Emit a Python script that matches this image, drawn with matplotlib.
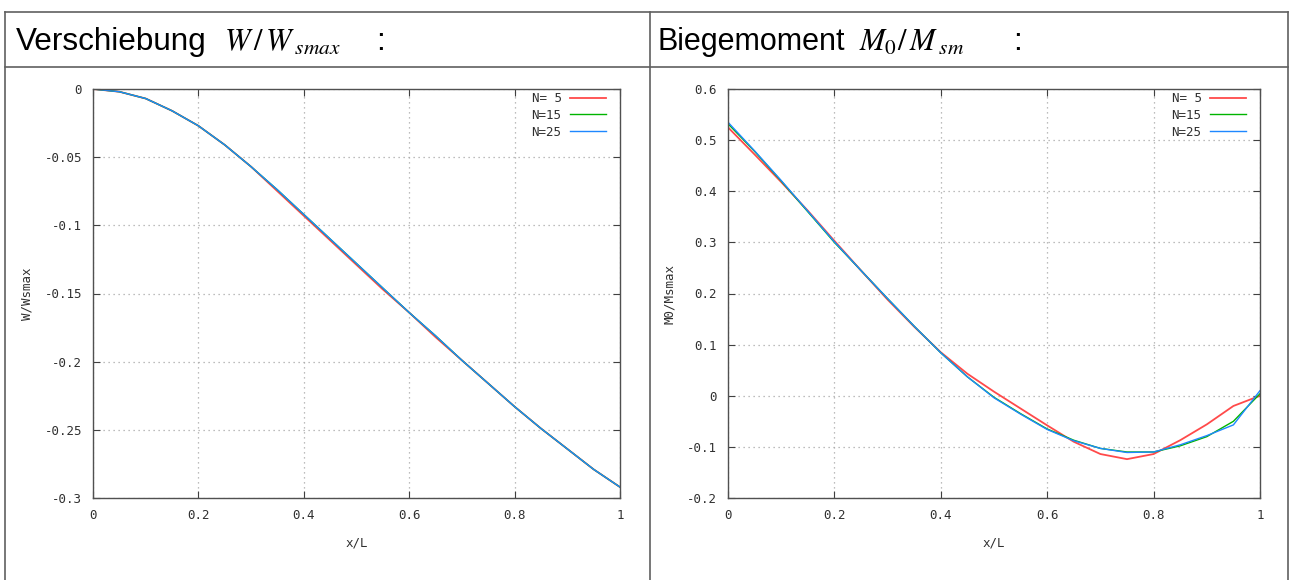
import matplotlib
matplotlib.use("Agg")
import matplotlib.pyplot as plt
from matplotlib.lines import Line2D

# ---------------- data ----------------
x_vals = [0.0, 0.05, 0.1, 0.15, 0.2, 0.25, 0.3, 0.35, 0.4, 0.45, 0.5,
          0.55, 0.6, 0.65, 0.7, 0.75, 0.8, 0.85, 0.9, 0.95, 1.0]

w_n5 = [0.0, -0.002, -0.007, -0.016, -0.027, -0.041, -0.057, -0.075, -0.093, -0.111, -0.129,
        -0.147, -0.164, -0.182, -0.199, -0.216, -0.233, -0.249, -0.264, -0.279, -0.292]
w_n15 = [0.0, -0.002, -0.007, -0.016, -0.027, -0.041, -0.057, -0.074, -0.092, -0.110, -0.128,
         -0.146, -0.164, -0.181, -0.199, -0.216, -0.233, -0.249, -0.264, -0.279, -0.292]
w_n25 = [0.0, -0.002, -0.007, -0.016, -0.027, -0.041, -0.057, -0.074, -0.092, -0.110, -0.128,
         -0.146, -0.164, -0.181, -0.199, -0.216, -0.233, -0.249, -0.264, -0.279, -0.292]

m_n5 = [0.525, 0.472, 0.418, 0.362, 0.303, 0.245, 0.188, 0.135, 0.085, 0.043, 0.008,
        -0.025, -0.058, -0.090, -0.114, -0.124, -0.114, -0.087, -0.056, -0.020, 0.0]
m_n15 = [0.532, 0.478, 0.420, 0.360, 0.300, 0.245, 0.190, 0.136, 0.084, 0.037, -0.003,
         -0.035, -0.065, -0.087, -0.103, -0.110, -0.110, -0.098, -0.080, -0.050, 0.004]
m_n25 = [0.535, 0.479, 0.421, 0.361, 0.301, 0.245, 0.190, 0.136, 0.084, 0.037, -0.004,
         -0.036, -0.066, -0.088, -0.103, -0.111, -0.110, -0.096, -0.078, -0.057, 0.010]

series_labels = ["N= 5", "N=15", "N=25"]
series_colors = ["#ff4a4a", "#00b400", "#1e88ff"]

x_ticks = [0, 0.2, 0.4, 0.6, 0.8, 1]
x_ticklabels = ["0", "0.2", "0.4", "0.6", "0.8", "1"]
w_ticks = [0, -0.05, -0.1, -0.15, -0.2, -0.25, -0.3]
w_ticklabels = ["0", "-0.05", "-0.1", "-0.15", "-0.2", "-0.25", "-0.3"]
m_ticks = [0.6, 0.5, 0.4, 0.3, 0.2, 0.1, 0, -0.1, -0.2]
m_ticklabels = ["0.6", "0.5", "0.4", "0.3", "0.2", "0.1", "0", "-0.1", "-0.2"]

# ---------------- figure ----------------
W, H = 1290, 580
fig = plt.figure(figsize=(W / 100, H / 100), dpi=100)
fig.patch.set_facecolor("white")

def px(x0, y0, x1, y1):
    return [x0 / W, 1 - y1 / H, (x1 - x0) / W, (y1 - y0) / H]

# table lines
tcol = "#606060"
for (xa, ya, xb, yb) in [(5, 12, 1288, 12), (5, 67, 1288, 67),
                         (5, 12, 5, 580), (650, 12, 650, 580), (1288, 12, 1288, 580)]:
    fig.add_artist(Line2D([xa / W, xb / W], [1 - ya / H, 1 - yb / H],
                          transform=fig.transFigure, color=tcol, lw=1.2))

# headers
hy = 1 - 42 / H
fig.text(16 / W, hy, "Verschiebung", fontsize=22.7, family="Liberation Sans",
         va="center", ha="left", color="black")
fig.text(224 / W, hy, r"$W\,\mathrm{/}\,W_{\;smax}$", fontsize=22,
         va="center", ha="left", color="black", math_fontfamily="stix")
fig.text(376 / W, hy, ":", fontsize=22.7, family="Liberation Sans",
         va="center", ha="left", color="black")

fig.text(657 / W, hy, "Biegemoment", fontsize=22, family="Liberation Sans",
         va="center", ha="left", color="black")
fig.text(859 / W, hy, r"$M_{0}\mathrm{/}\,M_{\;sm}$", fontsize=22,
         va="center", ha="left", color="black", math_fontfamily="stix")
fig.text(1013 / W, hy, ":", fontsize=22.7, family="Liberation Sans",
         va="center", ha="left", color="black")

mono = "DejaVu Sans Mono"
fs = 9

def style(ax, yticks, yticklabels, ylim, ylabel):
    ax.set_xlim(0, 1)
    ax.set_ylim(*ylim)
    ax.set_xticks(x_ticks)
    ax.set_xticklabels(x_ticklabels, family=mono, fontsize=fs, color="#303030")
    ax.set_yticks(yticks)
    ax.set_yticklabels(yticklabels, family=mono, fontsize=fs, color="#303030")
    ax.tick_params(direction="in", length=5, width=0.8, color="#404040",
                   top=True, right=True, pad=8)
    for s in ax.spines.values():
        s.set_color("#505050")
        s.set_linewidth(1.0)
    ax.grid(True, color="#a8a8a8", linestyle=(0, (1, 3)), linewidth=0.9)
    ax.set_axisbelow(True)
    ax.set_xlabel("x/L", family=mono, fontsize=fs, color="#303030", labelpad=10)
    ax.set_ylabel(ylabel, family=mono, fontsize=fs, color="#303030", labelpad=8)

def draw(ax, ys, width_px):
    for y, lab, c in zip(ys, series_labels, series_colors):
        lw = 1.3 if lab == "N= 5" else 1.0
        ax.plot(x_vals, y, color=c, lw=lw, label=lab)
    ax.legend(loc="upper right", frameon=False, markerfirst=False,
              bbox_to_anchor=(1 - 14 / width_px, 1 - 3 / 409),
              prop={"family": mono, "size": fs}, handlelength=2.9,
              handletextpad=0.65, labelspacing=0.3, borderaxespad=0.0,
              borderpad=0.0, labelcolor="#303030")

ax1 = fig.add_axes(px(93, 89, 620, 498))
draw(ax1, [w_n5, w_n15, w_n25], 527)
style(ax1, w_ticks, w_ticklabels, (-0.3, 0), "W/Wsmax")

ax2 = fig.add_axes(px(728, 89, 1260, 498))
draw(ax2, [m_n5, m_n15, m_n25], 532)
style(ax2, m_ticks, m_ticklabels, (-0.2, 0.6), "M0/Msmax")

fig.savefig("out.png", dpi=100, facecolor="white")
